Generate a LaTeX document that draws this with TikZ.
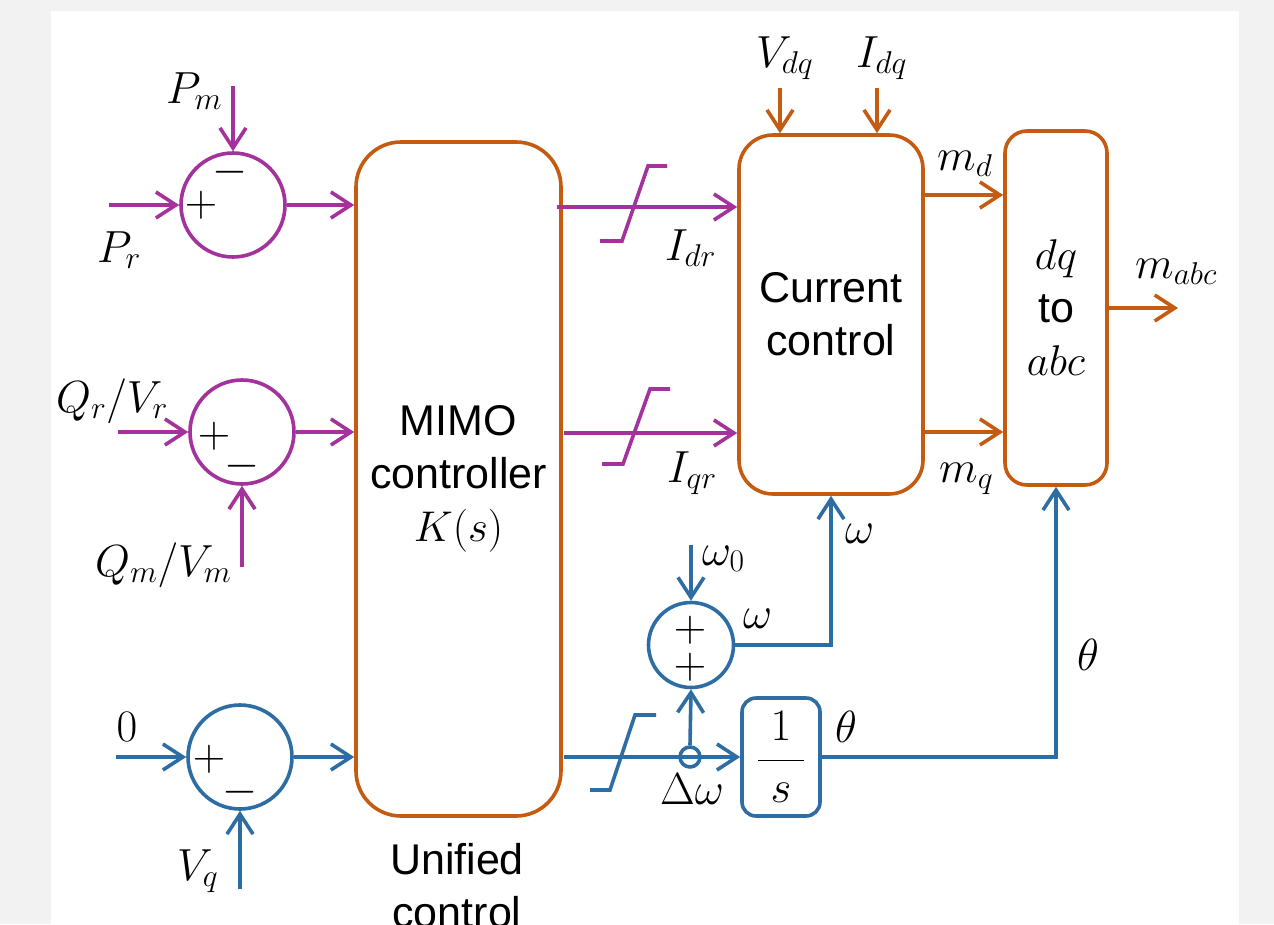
\RequirePackage{fix-cm}
\documentclass[tikz,border=0pt]{standalone}
\usepackage{fontspec}
\newfontfamily\arialf{Liberation Sans}
\usetikzlibrary{arrows.meta,calc}
\definecolor{cpur}{HTML}{A3329D}
\definecolor{corg}{HTML}{C55A11}
\definecolor{cblu}{HTML}{2E6DA4}
\definecolor{cbg}{HTML}{F2F2F2}
\begin{document}
\begin{tikzpicture}[x=1pt,y=-1pt,
  every node/.style={inner sep=0pt},
  lw/.style={line width=3.6pt},
  arr/.style={lw,-{Straight Barb[length=20pt,width=26pt]}},
  sumc/.style={circle,draw,lw,minimum size=104pt},
  obox/.style={draw=corg,lw,rounded corners=#1,font=\arialf\fontsize{43}{53}\selectfont,align=center},
  lab/.style={anchor=base west,font=\fontsize{45}{53}\selectfont},
  sgn/.style={font=\fontsize{45}{53}\selectfont},
  satur/.style={lw,line join=miter}]
\fill[cbg] (0,0) rectangle (1274,924);
\fill[white] (51,11) rectangle (1239,924);
\useasboundingbox (0,0) rectangle (1274,924);

% summing junctions
\node[sumc,draw=cpur] (s1) at (233,205) {};
\node[sumc,draw=cpur] (s2) at (242,432) {};
\node[sumc,draw=cblu] (s3) at (240,757) {};
\node[sumc,draw=cblu,minimum size=85pt] (s4) at (691,645) {};
\node[sgn] (s1a) at (201,205) {$+$};
\node[sgn] (s1b) at (230,172) {$-$};
\node[sgn] (s2a) at (214,436) {$+$};
\node[sgn] (s2b) at (242,466) {$-$};
\node[sgn] (s3a) at (209,759) {$+$};
\node[sgn] (s3b) at (240,792) {$-$};
\node[sgn] (s4a) at (690,630) {$+$};
\node[sgn] (s4b) at (690,667) {$+$};

% blocks
\node[obox=45pt,minimum width=205pt,minimum height=674pt] (mimo) at (458.5,479) {MIMO\\controller\\$K(s)$};
\node[obox=34pt,minimum width=184pt,minimum height=359pt] (cc) at (831,314.5) {Current\\control};
\node[obox=22pt,minimum width=102pt,minimum height=354pt] (dq) at (1056,308) {$dq$\\to\\$abc$};
\node[draw=cblu,lw,rounded corners=14pt,minimum width=78pt,minimum height=118pt,font=\fontsize{45}{53}\selectfont] (int) at (781,757) {$\displaystyle\frac{\;1\;}{s}$};
\node[circle,draw=cblu,lw,minimum size=20pt] (jn) at (690,757) {};

% inputs
\coordinate (pm) at (233,86);
\coordinate (pr) at (109,205);
\coordinate (qr) at (118,432);
\coordinate (qm) at (242,567);
\coordinate (zr) at (116,757);
\coordinate (vq) at (240,889);
\draw[arr,cpur] (pm) -- (s1.north);
\draw[arr,cpur] (pr) -- (s1.west);
\draw[arr,cpur] (qr) -- (s2.west);
\draw[arr,cpur] (qm) -- (s2.south);
\draw[arr,cblu] (zr) -- (s3.west);
\draw[arr,cblu] (vq) -- (s3.south);
\draw[arr,cpur] (s1.east) -- (s1.east -| mimo.west);
\draw[arr,cpur] (s2.east) -- (s2.east -| mimo.west);
\draw[arr,cblu] (s3.east) -- (s3.east -| mimo.west);

% current references
\coordinate (idrs) at (557,207);
\coordinate (iqrs) at (564,433);
\draw[arr,cpur] (idrs) -- (idrs -| cc.west);
\draw[arr,cpur] (iqrs) -- (iqrs -| cc.west);
\draw[satur,cpur] (600,241) -- (622,241) -- (648,166) -- (667,166);
\draw[satur,cpur] (602,464) -- (623,464) -- (650,389) -- (670,389);

% frequency / angle path
\coordinate (dws) at (564,757);
\draw[arr,cblu] (dws) -- (int.west);
\draw[satur,cblu] (590,790) -- (610,790) -- (635,715) -- (656,715);
\draw[arr,cblu] (jn.north) -- (s4.south);
\coordinate (w0) at (691,545);
\draw[arr,cblu] (w0) -- (s4.north);
\draw[arr,cblu] (s4.east) -| (cc.south);
\draw[arr,cblu] (int.east) -| (dq.south);

% current control inputs / outputs
\coordinate (vdq) at (780,88);
\coordinate (idq) at (877,88);
\draw[arr,corg] (vdq) -- (vdq |- cc.north);
\draw[arr,corg] (idq) -- (idq |- cc.north);
\coordinate (mdy) at (960,195);
\coordinate (mqy) at (960,432);
\draw[arr,corg] (mdy -| cc.east) -- (mdy -| dq.west);
\draw[arr,corg] (mqy -| cc.east) -- (mqy -| dq.west);
\coordinate (mabc) at (1178,308);
\draw[arr,corg] (dq.east) -- (mabc);

% labels
\node[lab] (lpm) at (166,103) {$P_m$};
\node[lab] (lpr) at (97,262) {$P_r$};
\node[lab] (lqr) at (56,412) {$Q_r/V_r$};
\node[lab] (lqm) at (95,576) {$Q_m/V_m$};
\node[lab,anchor=base] (lz) at (127,741) {$0$};
\node[lab] (lvq) at (177,880) {$V_q$};
\node[lab] (lvdq) at (756,67) {$V_{dq}$};
\node[lab] (lidq) at (856,67) {$I_{dq}$};
\node[lab] (lmd) at (937,170) {$m_d$};
\node[lab] (lmq) at (939,482) {$m_q$};
\node[lab] (lmabc) at (1135,278) {$m_{abc}$};
\node[lab] (lidr) at (665,260) {$I_{dr}$};
\node[lab] (liqr) at (667,482) {$I_{qr}$};
\node[lab] (lw0) at (702,565) {$\omega_0$};
\node[lab] (lw1) at (743,628) {$\omega$};
\node[lab] (lw2) at (845,543) {$\omega$};
\node[lab] (lth1) at (835,742) {$\theta$};
\node[lab] (ldw) at (660,804) {$\Delta\omega$};
\node[lab] (lth2) at (1077,670) {$\theta$};
\node[anchor=north,align=center,font=\arialf\fontsize{43}{53}\selectfont] (uc) at (457,843) {Unified\\control};
\end{tikzpicture}
\end{document}
